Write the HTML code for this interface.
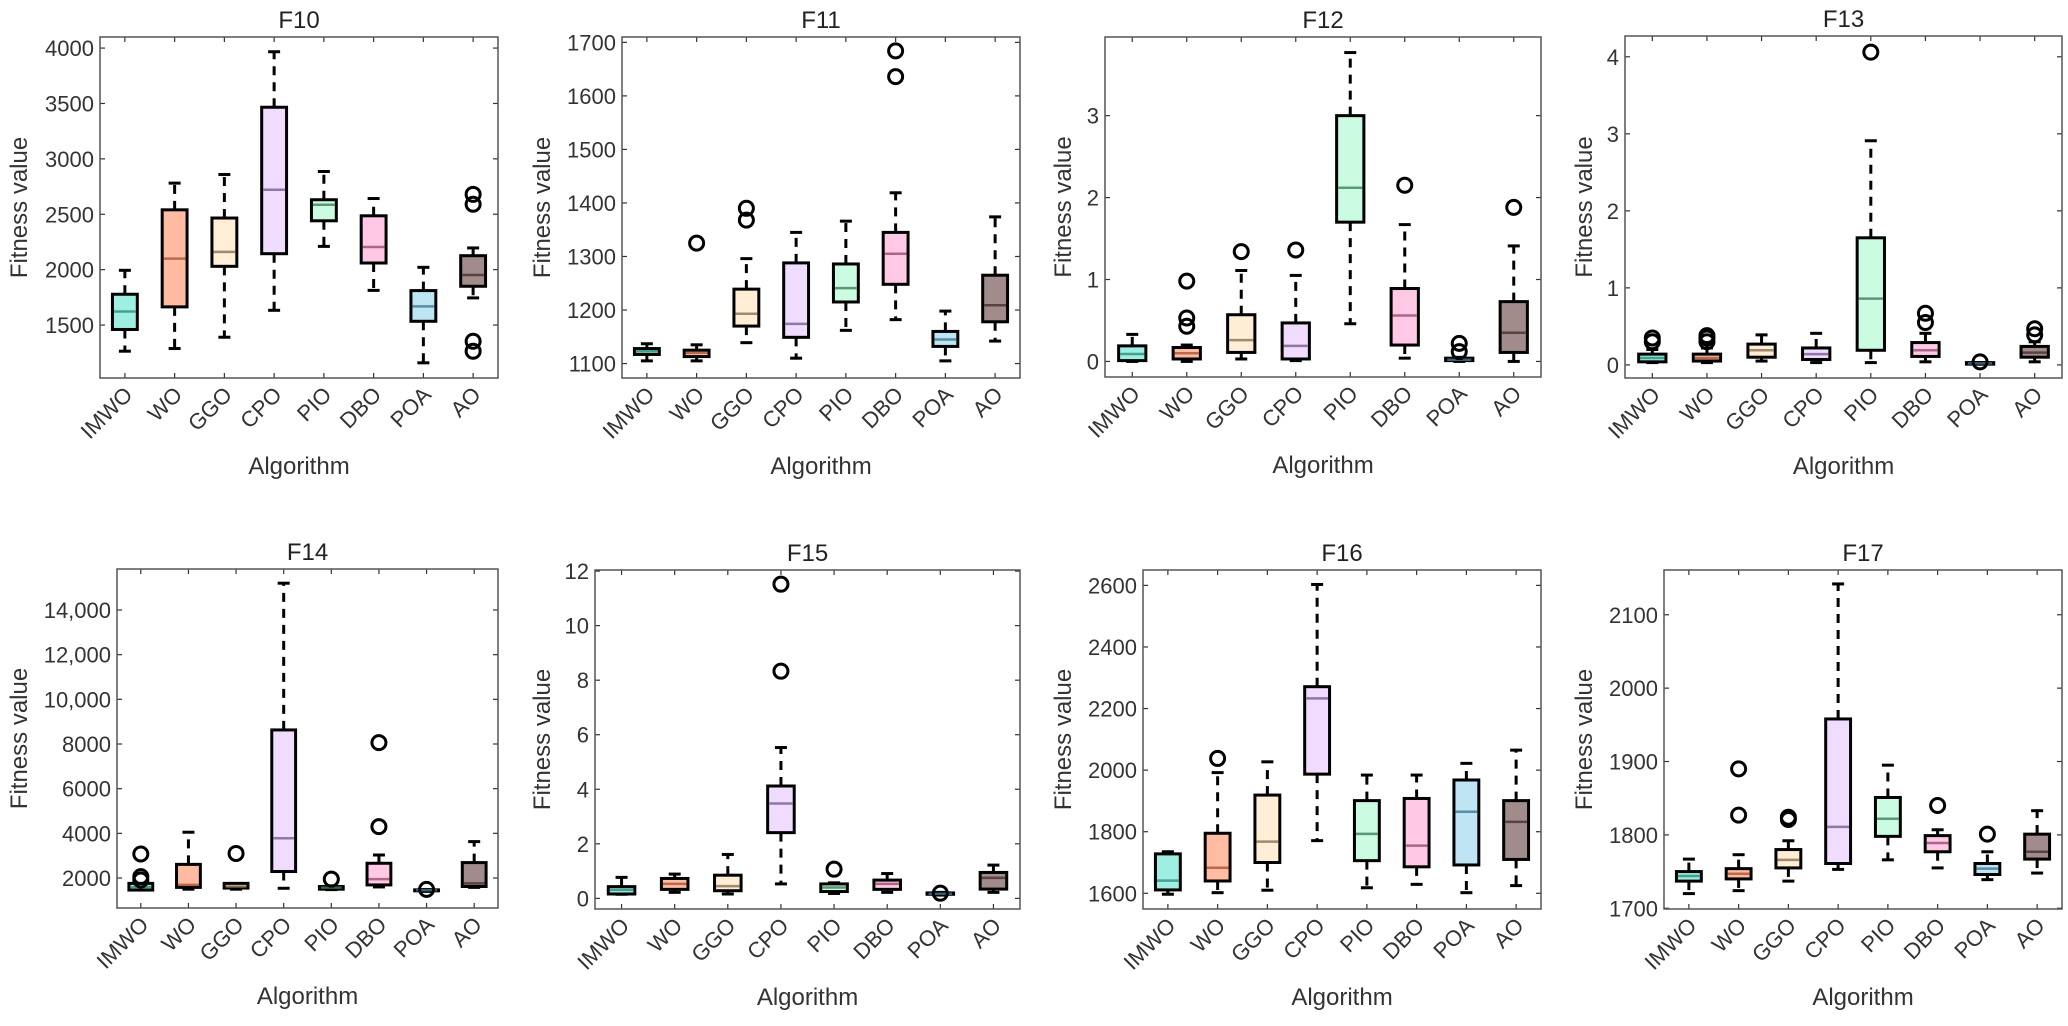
<!DOCTYPE html>
<html><head><meta charset="utf-8"><style>
html,body{margin:0;padding:0;background:#fff;}
svg{display:block;font-family:"Liberation Sans",Arial,sans-serif;}
</style></head><body>
<svg id="fig" width="2068" height="1026" viewBox="0 0 2068 1026" xmlns="http://www.w3.org/2000/svg"></svg>
<script>
const categories = ["IMWO","WO","GGO","CPO","PIO","DBO","POA","AO"];
const fills = ["#9eeee2","#ffbca2","#ffedd6","#efdcff","#cbfbe1","#ffc9e5","#bfe4f4","#a18b8b"];
const medColors = ["#2f8c7c","#a8553a","#8a7150","#7a5c8e","#3f7f5a","#9a4c73","#3f7890","#4a3030"];

// F10
const f10Low=[1264,1288,1390,1633,2210,1813,1159,1745];
const f10Q1=[1460,1664,2030,2144,2441,2060,1534,1850];
const f10Med=[1622,2099,2160,2721,2586,2204,1669,1952];
const f10Q3=[1778,2540,2466,3466,2631,2486,1811,2126];
const f10High=[1994,2781,2859,3967,2886,2642,2021,2196];
const f10Out=[[],[],[],[],[],[],[],[2680,2590,1354,1264]];
const f10Ticks=[1500,2000,2500,3000,3500,4000];
const f10TickLabels=["1500","2000","2500","3000","3500","4000"];
// F11
const f11Low=[1105,1105,1139,1110,1162,1182,1105,1142];
const f11Q1=[1117,1113,1170,1149,1215,1248,1132,1178];
const f11Med=[1123,1120,1193,1174,1241,1305,1145,1209];
const f11Q3=[1128,1125,1239,1288,1286,1345,1160,1265];
const f11High=[1137,1135,1296,1345,1366,1419,1198,1374];
const f11Out=[[],[1325],[1390,1368],[],[],[1684,1636],[],[]];
const f11Ticks=[1100,1200,1300,1400,1500,1600,1700];
const f11TickLabels=["1100","1200","1300","1400","1500","1600","1700"];
// F12
const f12Low=[0.0,0.0,0.03,0.01,0.46,0.04,0.0,0.0];
const f12Q1=[0.01,0.03,0.11,0.03,1.70,0.20,0.01,0.11];
const f12Med=[0.09,0.10,0.26,0.19,2.12,0.56,0.02,0.35];
const f12Q3=[0.19,0.17,0.57,0.47,3.00,0.89,0.04,0.73];
const f12High=[0.33,0.20,1.11,1.05,3.77,1.67,0.05,1.41];
const f12Out=[[],[0.98,0.53,0.43],[1.34],[1.36],[],[2.15],[0.22,0.12],[1.88]];
const f12Ticks=[0,1,2,3];
const f12TickLabels=["0","1","2","3"];
// F13
const f13Low=[0.03,0.03,0.05,0.03,0.03,0.04,0.01,0.04];
const f13Q1=[0.04,0.05,0.10,0.07,0.19,0.11,0.01,0.10];
const f13Med=[0.09,0.09,0.19,0.14,0.86,0.19,0.02,0.16];
const f13Q3=[0.14,0.14,0.27,0.22,1.65,0.29,0.03,0.24];
const f13High=[0.20,0.22,0.39,0.41,2.91,0.41,0.03,0.30];
const f13Out=[[0.30,0.35],[0.30,0.35,0.38],[],[],[4.06],[0.67,0.55],[0.04],[0.39,0.47]];
const f13Ticks=[0,1,2,3,4];
const f13TickLabels=["0","1","2","3","4"];
// F14
const f14Low=[1470,1500,1500,1540,1480,1600,1400,1580];
const f14Q1=[1460,1580,1550,2290,1500,1690,1430,1620];
const f14Med=[1590,1690,1620,3780,1570,1950,1450,1760];
const f14Q3=[1760,2610,1760,8630,1620,2660,1470,2690];
const f14High=[1650,4050,1750,15200,1650,3030,1480,3630];
const f14Out=[[3075,2060,1910],[],[3100],[],[1950],[4300,8060],[1490],[]];
const f14Ticks=[2000,4000,6000,8000,10000,12000,14000];
const f14TickLabels=["2000","4000","6000","8000","10,000","12,000","14,000"];
// F15
const f15Low=[0.15,0.22,0.16,0.53,0.18,0.22,0.12,0.22];
const f15Q1=[0.16,0.33,0.28,2.41,0.25,0.33,0.15,0.34];
const f15Med=[0.31,0.53,0.45,3.48,0.40,0.53,0.17,0.75];
const f15Q3=[0.43,0.73,0.85,4.12,0.53,0.67,0.20,0.95];
const f15High=[0.77,0.89,1.61,5.53,0.57,0.91,0.22,1.22];
const f15Out=[[],[],[],[11.52,8.33],[1.07],[],[0.19],[]];
const f15Ticks=[0,2,4,6,8,10,12];
const f15TickLabels=["0","2","4","6","8","10","12"];
// F16
const f16Low=[1597,1602,1610,1771,1618,1629,1602,1625];
const f16Q1=[1611,1640,1700,1987,1706,1686,1692,1710];
const f16Med=[1641,1683,1768,2233,1793,1755,1865,1832];
const f16Q3=[1728,1795,1919,2271,1901,1908,1968,1901];
const f16High=[1735,1992,2027,2603,1984,1984,2022,2065];
const f16Out=[[],[2038],[],[],[],[],[],[]];
const f16Ticks=[1600,1800,2000,2200,2400,2600];
const f16TickLabels=["1600","1800","2000","2200","2400","2600"];
// F17
const f17Low=[1720,1724,1737,1753,1766,1755,1739,1748];
const f17Q1=[1737,1740,1755,1761,1798,1777,1746,1767];
const f17Med=[1744,1747,1766,1811,1822,1789,1754,1777];
const f17Q3=[1750,1754,1780,1958,1851,1799,1761,1801];
const f17High=[1767,1773,1792,2142,1895,1807,1777,1833];
const f17Out=[[],[1890,1827],[1824,1821],[],[],[1840],[1801],[]];
const f17Ticks=[1700,1800,1900,2000,2100];
const f17TickLabels=["1700","1800","1900","2000","2100"];

const NS="http://www.w3.org/2000/svg";
const svg=document.getElementById('fig');
function mk(tag,attrs,parent){const e=document.createElementNS(NS,tag);for(const k in attrs)e.setAttribute(k,attrs[k]);(parent||svg).appendChild(e);return e;}

const panels=[
 {id:"f10",title:"F10",x0:100,x1:498,y0:37,y1:378,min:1022,max:4100,lab:18,low:f10Low,q1:f10Q1,med:f10Med,q3:f10Q3,high:f10High,out:f10Out,ticks:f10Ticks,tl:f10TickLabels},
 {id:"f11",title:"F11",x0:622,x1:1020,y0:37,y1:378,min:1073,max:1710,lab:541,low:f11Low,q1:f11Q1,med:f11Med,q3:f11Q3,high:f11High,out:f11Out,ticks:f11Ticks,tl:f11TickLabels},
 {id:"f12",title:"F12",x0:1105,x1:1541,y0:37,y1:377,min:-0.19,max:3.96,lab:1062,low:f12Low,q1:f12Q1,med:f12Med,q3:f12Q3,high:f12High,out:f12Out,ticks:f12Ticks,tl:f12TickLabels},
 {id:"f13",title:"F13",x0:1625,x1:2062,y0:36,y1:378,min:-0.17,max:4.27,lab:1583,low:f13Low,q1:f13Q1,med:f13Med,q3:f13Q3,high:f13High,out:f13Out,ticks:f13Ticks,tl:f13TickLabels},
 {id:"f14",title:"F14",x0:117,x1:498,y0:569,y1:908,min:657,max:15836,lab:18,low:f14Low,q1:f14Q1,med:f14Med,q3:f14Q3,high:f14High,out:f14Out,ticks:f14Ticks,tl:f14TickLabels},
 {id:"f15",title:"F15",x0:595,x1:1020,y0:570,y1:909,min:-0.39,max:12.04,lab:541,low:f15Low,q1:f15Q1,med:f15Med,q3:f15Q3,high:f15High,out:f15Out,ticks:f15Ticks,tl:f15TickLabels},
 {id:"f16",title:"F16",x0:1143,x1:1541,y0:570,y1:909,min:1549,max:2650,lab:1062,low:f16Low,q1:f16Q1,med:f16Med,q3:f16Q3,high:f16High,out:f16Out,ticks:f16Ticks,tl:f16TickLabels},
 {id:"f17",title:"F17",x0:1664,x1:2062,y0:570,y1:909,min:1699,max:2161,lab:1583,low:f17Low,q1:f17Q1,med:f17Med,q3:f17Q3,high:f17High,out:f17Out,ticks:f17Ticks,tl:f17TickLabels}
];

panels.forEach(p=>{
  const g=mk('g',{});
  
  
  const yS=v=>p.y1-(v-p.min)/(p.max-p.min)*(p.y1-p.y0);
  const step=(p.x1-p.x0)/categories.length;
  const xS=i=>p.x0+(i+0.5)*step;
  const bw=step*0.5;
  // title
  const t=mk('text',{x:(p.x0+p.x1)/2,y:p.y0-9,'text-anchor':'middle','font-size':24,fill:'#222'},g);
  t.textContent=p.title;
  
  
  // y label
  const yl=mk('text',{x:0,y:0,transform:`translate(${p.lab+9},${(p.y0+p.y1)/2}) rotate(-90)`,'text-anchor':'middle','font-size':24,fill:'#333'},g);
  yl.textContent="Fitness value";
  
  
  // x label
  const xl=mk('text',{x:(p.x0+p.x1)/2,y:p.y1+96,'text-anchor':'middle','font-size':24,fill:'#333'},g);
  xl.textContent="Algorithm";
  
  
  // y ticks
  p.ticks.forEach((v,k)=>{
    const y=yS(v);
    mk('line',{x1:p.x0,x2:p.x0+5,y1:y,y2:y,stroke:'#333','stroke-width':1.2},g);
    mk('line',{x1:p.x1-5,x2:p.x1,y1:y,y2:y,stroke:'#333','stroke-width':1.2},g);
    const tx=mk('text',{x:p.x0-6,y:y+8,'text-anchor':'end','font-size':22,fill:'#333'},g);
    tx.textContent=p.tl[k];
    
    
  });
  // x ticks & labels
  categories.forEach((c,i)=>{
    const x=xS(i);
    mk('line',{x1:x,x2:x,y1:p.y1,y2:p.y1-5,stroke:'#333','stroke-width':1.2},g);
    mk('line',{x1:x,x2:x,y1:p.y0,y2:p.y0+5,stroke:'#333','stroke-width':1.2},g);
    const tx=mk('text',{x:0,y:0,transform:`translate(${x+9},${p.y1+18}) rotate(-45)`,'text-anchor':'end','font-size':22,fill:'#333'},g);
    tx.textContent=c;
    
    
  });
  // boxes
  categories.forEach((c,i)=>{
    const x=xS(i);
    const bg=mk('g',{},g);
    
    
    const yq3=yS(p.q3[i]),yq1=yS(p.q1[i]);
    const top=Math.min(yq3,yq1),bot=Math.max(yq3,yq1);
    const yh=yS(p.high[i]),yl2=yS(p.low[i]);
    if(yh<top) mk('line',{x1:x,x2:x,y1:top,y2:yh,stroke:'#000','stroke-width':3,'stroke-dasharray':'9 7'},bg);
    if(yl2>bot) mk('line',{x1:x,x2:x,y1:bot,y2:yl2,stroke:'#000','stroke-width':3,'stroke-dasharray':'9 7'},bg);
    mk('line',{x1:x-6,x2:x+6,y1:yh,y2:yh,stroke:'#000','stroke-width':3},bg);
    mk('line',{x1:x-6,x2:x+6,y1:yl2,y2:yl2,stroke:'#000','stroke-width':3},bg);
    mk('rect',{x:x-bw/2,y:top,width:bw,height:Math.max(bot-top,1),fill:fills[i],stroke:'#000','stroke-width':3},bg);
    const ym=yS(p.med[i]);
    mk('line',{x1:x-bw/2+1.5,x2:x+bw/2-1.5,y1:ym,y2:ym,stroke:medColors[i],'stroke-width':2.5,'stroke-opacity':0.8},bg);
    p.out[i].forEach(v=>{
      const o=mk('circle',{cx:x,cy:yS(v),r:7,fill:'none',stroke:'#000','stroke-width':3},bg);
      
      
    });
  });
  // axes frame
  const fr=mk('rect',{x:p.x0,y:p.y0,width:p.x1-p.x0,height:p.y1-p.y0,fill:'none',stroke:'#555','stroke-width':1.5},g);
  
  
});
</script>
</body></html>
